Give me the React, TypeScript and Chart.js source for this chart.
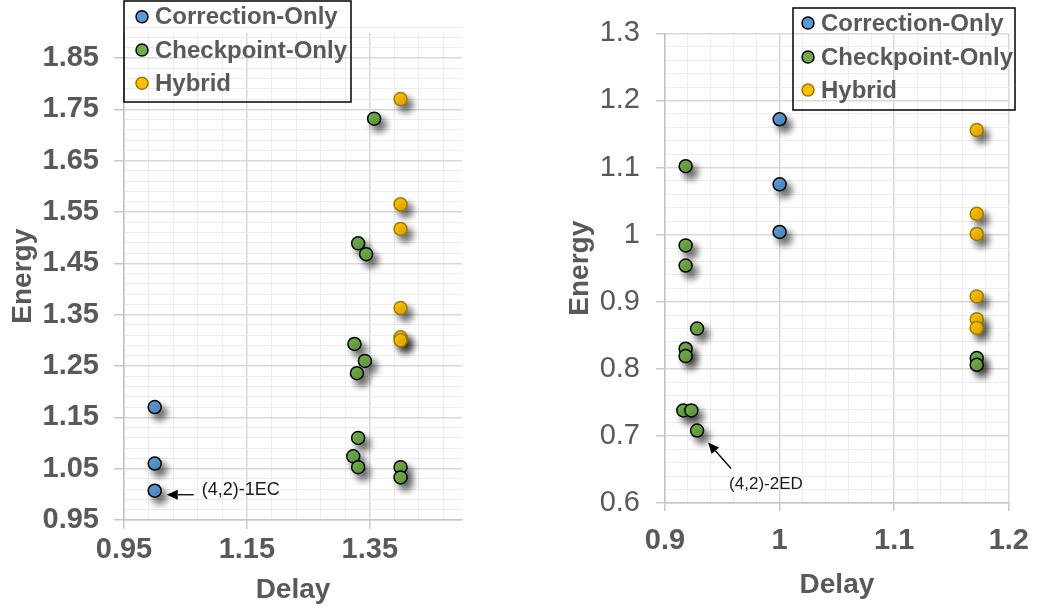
import React, { useEffect, useRef } from 'react';
import { Chart, registerables } from 'chart.js';
Chart.register(...registerables);

// ---------- shared ----------
const seriesNames = ['Correction-Only', 'Checkpoint-Only', 'Hybrid'];
const xTitle = 'Delay';
const yTitle = 'Energy';

// ---------- left panel data ----------
const leftCorrectionX = [1.0, 1.0, 1.0];
const leftCorrectionY = [1.17, 1.06, 1.007];
const leftCheckpointX = [1.357, 1.331, 1.344, 1.325, 1.342, 1.329, 1.331, 1.323, 1.331, 1.4, 1.4];
const leftCheckpointY = [1.732, 1.489, 1.468, 1.293, 1.26, 1.236, 1.11, 1.074, 1.053, 1.053, 1.033];
const leftHybridX = [1.4, 1.4, 1.4, 1.4, 1.4, 1.4];
const leftHybridY = [1.77, 1.565, 1.517, 1.363, 1.306, 1.3];
const leftXMajor = [0.95, 1.15, 1.35];
const leftXLabels = ['0.95', '1.15', '1.35'];
const leftYMajor = [0.95, 1.05, 1.15, 1.25, 1.35, 1.45, 1.55, 1.65, 1.75, 1.85];
const leftYLabels = ['0.95', '1.05', '1.15', '1.25', '1.35', '1.45', '1.55', '1.65', '1.75', '1.85'];
const leftNote = '(4,2)-1EC';

// ---------- right panel data ----------
const rightCorrectionX = [1.0, 1.0, 1.0];
const rightCorrectionY = [1.172, 1.075, 1.004];
const rightCheckpointX = [0.918, 0.918, 0.918, 0.928, 0.918, 0.918, 0.916, 0.923, 0.928, 1.172, 1.172];
const rightCheckpointY = [1.102, 0.984, 0.954, 0.86, 0.83, 0.819, 0.738, 0.738, 0.708, 0.816, 0.806];
const rightHybridX = [1.172, 1.172, 1.172, 1.172, 1.172, 1.172];
const rightHybridY = [1.156, 1.031, 1.001, 0.908, 0.874, 0.861];
const rightXMajor = [0.9, 1.0, 1.1, 1.2];
const rightXLabels = ['0.9', '1', '1.1', '1.2'];
const rightYMajor = [0.6, 0.7, 0.8, 0.9, 1.0, 1.1, 1.2, 1.3];
const rightYLabels = ['0.6', '0.7', '0.8', '0.9', '1', '1.1', '1.2', '1.3'];
const rightNote = '(4,2)-2ED';

// ---------- styles ----------
const FONT = "'Liberation Sans', Arial, sans-serif";
const TEXT = '#595959';
const colors = ['#5B9BD5', '#70AD47', '#FFC000'];
const borders = ['#000000', '#000000', '#9C7A00'];

const near = (a: number, b: number) => Math.abs(a - b) < 1e-6;
const isMajor = (v: number, majors: number[]) => majors.some((m) => near(m, v));
function gridValues(min: number, max: number, step: number) {
  const out: number[] = [];
  const n = Math.round((max - min) / step);
  for (let i = 0; i <= n; i++) out.push(Math.round((min + i * step) * 1e6) / 1e6);
  if (!near(out[out.length - 1], max) && out[out.length - 1] < max) out.push(max);
  return out;
}

const shadowPlugin = {
  id: 'markerShadow',
  beforeDatasetsDraw(chart: any) {
    const ctx = chart.ctx;
    ctx.save();
    ctx.shadowColor = 'rgba(0,0,0,0.6)';
    ctx.shadowBlur = 7;
    ctx.shadowOffsetX = 5;
    ctx.shadowOffsetY = 6;
  },
  afterDatasetsDraw(chart: any) {
    chart.ctx.restore();
  },
};

const boxLegendPlugin = {
  id: 'boxLegend',
  afterDraw(chart: any, _args: any, opts: any) {
    const ctx = chart.ctx;
    ctx.save();
    ctx.strokeStyle = '#000';
    ctx.lineWidth = 1.5;
    ctx.strokeRect(opts.x, opts.y, opts.w, opts.h);
    chart.data.datasets.forEach((ds: any, i: number) => {
      const cy = opts.rows[i];
      ctx.beginPath();
      ctx.arc(opts.markerX, cy, 6, 0, Math.PI * 2);
      ctx.fillStyle = ds.backgroundColor;
      ctx.fill();
      ctx.lineWidth = 1.5;
      ctx.strokeStyle = ds.borderColor;
      ctx.stroke();
      ctx.fillStyle = TEXT;
      ctx.font = `bold ${opts.fontSize}px ${FONT}`;
      ctx.textBaseline = 'middle';
      ctx.textAlign = 'left';
      ctx.fillText(ds.label, opts.textX, cy + 1);
    });
    ctx.restore();
  },
};

const notePlugin = {
  id: 'note',
  afterDraw(chart: any, _args: any, opts: any) {
    const ctx = chart.ctx;
    const px = chart.scales.x.getPixelForValue(opts.anchorX);
    const py = chart.scales.y.getPixelForValue(opts.anchorY);
    const hx = px + opts.head[0], hy = py + opts.head[1];
    const tx = px + opts.tail[0], ty = py + opts.tail[1];
    ctx.save();
    ctx.strokeStyle = '#000';
    ctx.fillStyle = '#000';
    ctx.lineWidth = 1.3;
    const ang = Math.atan2(hy - ty, hx - tx);
    const L = 11, W = 5;
    const bx = hx - L * Math.cos(ang), by = hy - L * Math.sin(ang);
    ctx.beginPath();
    ctx.moveTo(tx, ty);
    ctx.lineTo(bx, by);
    ctx.stroke();
    ctx.beginPath();
    ctx.moveTo(hx, hy);
    ctx.lineTo(bx + W * Math.sin(ang), by - W * Math.cos(ang));
    ctx.lineTo(bx - W * Math.sin(ang), by + W * Math.cos(ang));
    ctx.closePath();
    ctx.fill();
    ctx.fillStyle = '#1a1a1a';
    ctx.font = `${opts.fontSize}px ${FONT}`;
    ctx.textAlign = 'left';
    ctx.textBaseline = 'middle';
    ctx.fillText(opts.text, px + opts.textDx, py + opts.textDy);
    ctx.restore();
  },
};

type PanelCfg = {
  width: number;
  height: number;
  left: number;
  series: { x: number[]; y: number[] }[];
  xMin: number; xMax: number; xMinor: number; xMajor: number[]; xLabels: string[];
  yMin: number; yMax: number; yMinor: number; yMajor: number[]; yLabels: string[];
  yAxisWidth: number; xAxisHeight: number;
  padTop: number; padRight: number;
  yTickLen: number; yTickPad: number; yTickWeight: string;
  xTickLen: number; xTickPad: number; xTickWeight: string;
  yTitlePad: number; xTitlePad: number;
  legend: any;
  note: any;
};

function Panel({ cfg }: { cfg: PanelCfg }) {
  const ref = useRef<HTMLCanvasElement>(null);
  useEffect(() => {
    if (!ref.current) return;
    const xGrid = gridValues(cfg.xMin, cfg.xMax, cfg.xMinor).filter((v) => v <= cfg.xMax + 1e-9);
    const yGrid = gridValues(cfg.yMin, cfg.yMax, cfg.yMinor);
    const label = (v: number, majors: number[], labels: string[]) => {
      const i = majors.findIndex((m) => near(m, v));
      return i >= 0 ? labels[i] : '';
    };
    const chart = new Chart(ref.current, {
      type: 'scatter',
      data: {
        datasets: cfg.series.map((s, i) => ({
          label: seriesNames[i],
          data: s.x.map((x, j) => ({ x, y: s.y[j] })),
          backgroundColor: colors[i],
          borderColor: borders[i],
          borderWidth: 1.5,
          pointRadius: 6.5,
          pointHoverRadius: 6.5,
        })),
      },
      options: {
        animation: false,
        responsive: false,
        events: [],
        layout: { padding: { left: 0, top: cfg.padTop, right: cfg.padRight, bottom: 0 } },
        plugins: {
          legend: { display: false },
          tooltip: { enabled: false },
          boxLegend: cfg.legend,
          note: cfg.note,
        } as any,
        scales: {
          x: {
            type: 'linear',
            min: cfg.xMin,
            max: cfg.xMax,
            afterBuildTicks: (s: any) => { s.ticks = xGrid.map((v) => ({ value: v })); },
            afterFit: (s: any) => { s.height = cfg.xAxisHeight; },
            ticks: {
              autoSkip: false, maxRotation: 0, minRotation: 0,
              padding: cfg.xTickPad,
              color: TEXT,
              font: { family: FONT, size: 29, weight: cfg.xTickWeight as any },
              callback: (v: any) => label(Number(v), cfg.xMajor, cfg.xLabels),
            },
            grid: {
              color: (c: any) => (isMajor(c.tick?.value, cfg.xMajor) ? '#D9D9D9' : '#EDEDED'),
              lineWidth: (c: any) => (isMajor(c.tick?.value, cfg.xMajor) ? 1.5 : 1),
              tickLength: cfg.xTickLen,
              tickColor: (c: any) => (isMajor(c.tick?.value, cfg.xMajor) ? '#C8C8C8' : 'rgba(0,0,0,0)'),
            },
            border: { display: true, color: '#C4C4C4', width: 1.5 },
            title: {
              display: true, text: xTitle, color: TEXT,
              font: { family: FONT, size: 28, weight: 'bold' },
              padding: { top: 0, bottom: cfg.xTitlePad },
            },
          },
          y: {
            type: 'linear',
            min: cfg.yMin,
            max: cfg.yMax,
            afterBuildTicks: (s: any) => { s.ticks = yGrid.map((v) => ({ value: v })); },
            afterFit: (s: any) => { s.width = cfg.yAxisWidth; },
            ticks: {
              autoSkip: false,
              padding: cfg.yTickPad,
              color: TEXT,
              font: { family: FONT, size: 29, weight: cfg.yTickWeight as any },
              callback: (v: any) => label(Number(v), cfg.yMajor, cfg.yLabels),
            },
            grid: {
              color: (c: any) => (isMajor(c.tick?.value, cfg.yMajor) ? '#D9D9D9' : '#EDEDED'),
              lineWidth: (c: any) => (isMajor(c.tick?.value, cfg.yMajor) ? 1.5 : 1),
              tickLength: cfg.yTickLen,
              tickColor: (c: any) => (isMajor(c.tick?.value, cfg.yMajor) ? '#C8C8C8' : 'rgba(0,0,0,0)'),
            },
            border: { display: true, color: '#C4C4C4', width: 1.5 },
            title: {
              display: true, text: yTitle, color: TEXT,
              font: { family: FONT, size: 28, weight: 'bold' },
              padding: { top: cfg.yTitlePad, bottom: 0 },
            },
          },
        },
      },
      plugins: [shadowPlugin, boxLegendPlugin, notePlugin],
    } as any);
    return () => chart.destroy();
  }, [cfg]);
  return (
    <div style={{ position: 'absolute', left: cfg.left, top: 0, width: cfg.width, height: cfg.height }}>
      <canvas ref={ref} width={cfg.width} height={cfg.height} style={{ display: 'block' }} />
    </div>
  );
}

const leftCfg: PanelCfg = {
  width: 500, height: 611, left: 0,
  series: [
    { x: leftCorrectionX, y: leftCorrectionY },
    { x: leftCheckpointX, y: leftCheckpointY },
    { x: leftHybridX, y: leftHybridY },
  ],
  xMin: 0.95, xMax: 1.5, xMinor: 0.04, xMajor: leftXMajor, xLabels: leftXLabels,
  yMin: 0.95, yMax: 1.9, yMinor: 0.02, yMajor: leftYMajor, yLabels: leftYLabels,
  yAxisWidth: 124, xAxisHeight: 91, padTop: 27, padRight: 38,
  yTickLen: 10, yTickPad: 15, yTickWeight: 'bold',
  xTickLen: 9, xTickPad: 4, xTickWeight: 'bold',
  yTitlePad: 6, xTitlePad: 4,
  legend: { x: 124, y: 1, w: 227, h: 101, markerX: 142, textX: 155, rows: [16.7, 50, 83.3], fontSize: 24 },
  note: { anchorX: leftCorrectionX[2], anchorY: leftCorrectionY[2], head: [12, 4], tail: [39, 4], text: leftNote, textDx: 47, textDy: -1, fontSize: 18 },
};

const rightCfg: PanelCfg = {
  width: 512, height: 611, left: 530,
  series: [
    { x: rightCorrectionX, y: rightCorrectionY },
    { x: rightCheckpointX, y: rightCheckpointY },
    { x: rightHybridX, y: rightHybridY },
  ],
  xMin: 0.9, xMax: 1.2, xMinor: 0.02, xMajor: rightXMajor, xLabels: rightXLabels,
  yMin: 0.6, yMax: 1.3, yMinor: 0.02, yMajor: rightYMajor, yLabels: rightYLabels,
  yAxisWidth: 135, xAxisHeight: 108, padTop: 28, padRight: 28,
  yTickLen: 9, yTickPad: 16, yTickWeight: 'normal',
  xTickLen: 8, xTickPad: 13, xTickWeight: 'bold',
  yTitlePad: 33, xTitlePad: 9,
  legend: { x: 263, y: 8, w: 222, h: 102, markerX: 278, textX: 291, rows: [23, 57, 90], fontSize: 24 },
  note: { anchorX: rightCheckpointX[8], anchorY: rightCheckpointY[8], head: [11, 12], tail: [34, 38], text: rightNote, textDx: 32, textDy: 54, fontSize: 17 },
};

export default function App() {
  return (
    <div style={{ position: 'absolute', left: 0, top: 0, width: 1042, height: 611, background: '#fff' }}>
      <Panel cfg={leftCfg} />
      <Panel cfg={rightCfg} />
    </div>
  );
}
